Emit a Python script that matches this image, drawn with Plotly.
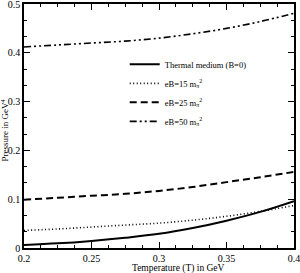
import plotly.graph_objects as go

T = [0.20, 0.225, 0.25, 0.275, 0.30, 0.325, 0.35, 0.375, 0.40]
p_thermal = [0.006, 0.0095, 0.0146, 0.021, 0.029, 0.041, 0.056, 0.074, 0.096]
p_eb15 = [0.036, 0.039, 0.043, 0.047, 0.051, 0.057, 0.065, 0.075, 0.087]
p_eb25 = [0.099, 0.103, 0.107, 0.111, 0.117, 0.125, 0.135, 0.145, 0.156]
p_eb50 = [0.412, 0.416, 0.420, 0.424, 0.430, 0.439, 0.450, 0.464, 0.481]

names = ["Thermal medium (B=0)",
         "eB=15 m<sub>π</sub><sup>2</sup>",
         "eB=25 m<sub>π</sub><sup>2</sup>",
         "eB=50 m<sub>π</sub><sup>2</sup>"]
series = [p_thermal, p_eb15, p_eb25, p_eb50]
styles = [dict(width=2, dash="solid"),
          dict(width=1.6, dash="1px,2.5px"),
          dict(width=2, dash="7px,4px"),
          dict(width=1.6, dash="7px,3px,2px,3px,2px,3px")]

fig = go.Figure()
for n, s, st in zip(names, series, styles):
    fig.add_trace(go.Scatter(x=T, y=s, mode="lines", name=n,
                             line=dict(color="black", shape="spline", **st)))

font = dict(family="Liberation Serif", size=10, color="black")
axis_common = dict(showgrid=False, zeroline=False, showline=True, linecolor="black",
                   linewidth=1.5, mirror="allticks", ticks="inside", ticklen=6,
                   tickcolor="black", tickfont=font, automargin=False,
                   ticklabeloverflow="allow")
fig.update_xaxes(range=[0.2, 0.4],
                 tickvals=[0.2, 0.25, 0.3, 0.35, 0.4],
                 ticktext=["0.2", "0.25", "0.3", "0.35", "0.4"],
                 minor=dict(ticks="inside", dtick=0.0125, tick0=0.2, ticklen=3, tickcolor="black"),
                 **axis_common)
fig.update_yaxes(range=[0, 0.5], tickvals=[0, 0.1, 0.2, 0.3, 0.4, 0.5],
                 ticktext=["0", "0.1", "0.2", "0.3", "0.4", "0.5"],
                 minor=dict(ticks="inside", dtick=1/30, tick0=0, ticklen=3, tickcolor="black"),
                 **axis_common)
fig.add_annotation(text="Temperature (T) in GeV", xref="paper", yref="paper",
                   x=0.574, y=-0.082, xanchor="center", yanchor="middle", showarrow=False,
                   font=dict(family="Liberation Serif", size=9.5, color="black"))
fig.add_annotation(text="Pressure in GeV<sup>4</sup>", xref="paper", yref="paper",
                   x=-0.072, y=0.484, xanchor="center", yanchor="middle", showarrow=False,
                   textangle=-90, font=dict(family="Liberation Serif", size=9, color="black"))
fig.update_layout(width=300, height=273, margin=dict(l=24, r=6, t=4, b=25),
                  plot_bgcolor="white", paper_bgcolor="white", font=font,
                  showlegend=True,
                  legend=dict(x=0.373, y=0.812, xanchor="left", yanchor="top",
                              bgcolor="rgba(0,0,0,0)", font=dict(family="Liberation Serif", size=8.5),
                              tracegroupgap=0, itemwidth=30))
fig.write_html("out.html", config={"displayModeBar": False},
               post_script="document.body.style.margin='0px';document.body.style.overflow='hidden';")
